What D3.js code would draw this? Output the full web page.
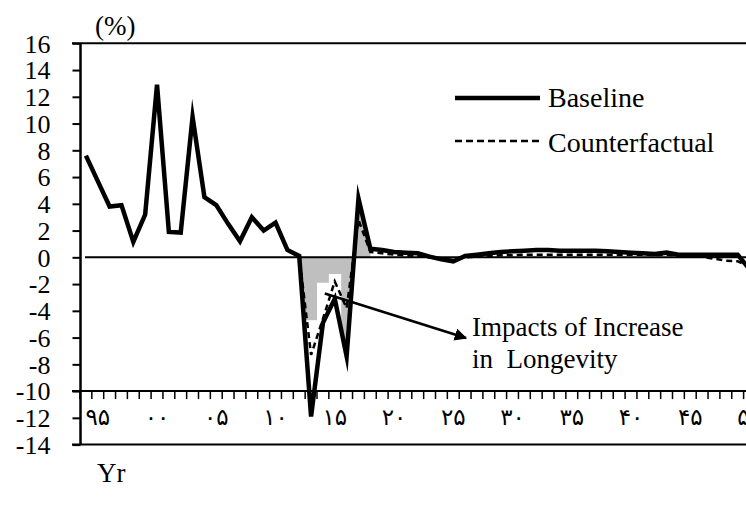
<!DOCTYPE html>
<html><head><meta charset="utf-8">
<script src="https://cdn.jsdelivr.net/npm/d3@7"></script>
<style>
body{margin:0;background:#fff}
svg{display:block;background:#fff}
text{font-family:"Liberation Serif","Times New Roman",serif;fill:#000}
</style>
</head><body>
<svg id="c" width="746" height="509"></svg>
<script>
// ---- data ----
const years = [1994,1995,1996,1997,1998,1999,2000,2001,2002,2003,2004,2005,2006,2007,2008,2009,
  2010,2011,2012,2013,2014,2015,2016,2017,2018,2019,2020,2021,2022,2023,2024,2025,2026,2027,2028,
  2029,2030,2031,2032,2033,2034,2035,2036,2037,2038,2039,2040,2041,2042,2043,2044,2045,2046,2047,
  2048,2049,2050];
const baseline = [7.6,5.7,3.8,3.9,1.15,3.2,12.9,1.9,1.85,10.5,
  4.5,3.9,2.5,1.2,3.0,2.0,2.6,0.55,0.1,-11.9,
  -4.9,-3.1,-7.4,4.4,0.65,0.55,0.4,0.35,0.3,0.05,
  -0.15,-0.3,0.1,0.2,0.3,0.4,0.45,0.5,0.55,0.55,
  0.5,0.5,0.5,0.5,0.45,0.4,0.35,0.3,0.25,0.35,
  0.2,0.2,0.2,0.2,0.2,0.2,-0.9];
const counterfactual = [null,null,null,null,null,null,null,null,null,null,
  null,null,null,null,null,null,null,0.55,0.1,-7.3,
  -4.6,-1.8,-3.8,2.8,0.4,0.3,0.2,0.15,0.1,0.0,
  -0.1,-0.2,0.0,0.05,0.1,0.15,0.15,0.2,0.2,0.2,
  0.2,0.2,0.2,0.2,0.2,0.2,0.2,0.2,0.15,0.2,
  0.1,0.1,0.05,-0.1,-0.25,-0.3,-0.7];
const shadeYears = [2012,2013,2014,2015,2016,2017,2018];
const maskYears = [2013,2014,2015];
const maskTop = [-4.7,-1.9,-1.25];
const tickYears = [1995,2000,2005,2010,2015,2020,2025,2030,2035,2040,2045,2050];
const tickLabels = ["۹۵","۰۰","۰۵","۱۰","۱۵","۲۰","۲۵","۳۰","۳۵","۴۰","۴۵","۵۰"];
const yTicks = [16,14,12,10,8,6,4,2,0,-2,-4,-6,-8,-10,-12,-14];
const seriesNames = ["Baseline","Counterfactual"];
const annotation = ["Impacts of Increase","in  Longevity"];

// ---- scales ----
const svg = d3.select("#c");
const x = d3.scaleBand().domain(years).range([80, 80 + years.length * 11.85]).padding(0);
const cx = yr => x(yr) + x.bandwidth() / 2;
const y = d3.scaleLinear().domain([-14, 16]).range([444.6, 43.3]);
const byYear = new Map(years.map((yr, i) => [yr, i]));

// ---- shading ----
const area = d3.area().x(d => cx(d)).y0(y(0)).y1(d => y(baseline[byYear.get(d)]));
svg.append("path").datum(shadeYears).attr("d", area).attr("fill", "#bfbfbf");
svg.selectAll("rect.mask").data(maskYears).join("rect").attr("class", "mask")
  .attr("x", d => x(d)).attr("width", x.bandwidth() + 0.5)
  .attr("y", (d, i) => y(maskTop[i])).attr("height", (d, i) => y(-12.2) - y(maskTop[i]))
  .attr("fill", "#fff");

// ---- frame / axes ----
const right = 746;
[16, -14, -10].forEach(v => {
  svg.append("line").attr("x1", 72).attr("x2", right).attr("y1", y(v)).attr("y2", y(v))
    .attr("stroke", "#000").attr("stroke-width", 2);
});
svg.append("line").attr("x1", 85).attr("x2", right).attr("y1", y(0)).attr("y2", y(0))
  .attr("stroke", "#000").attr("stroke-width", 2);

const yAxis = svg.append("g").attr("transform", "translate(80.5,0)")
  .call(d3.axisLeft(y).tickValues(yTicks).tickSize(8).tickPadding(22).tickFormat(d => String(d)));
yAxis.select(".domain").attr("d", `M0,${y(16)}V${y(-14)}`).attr("stroke-width", 2.5);
yAxis.selectAll(".tick line").attr("stroke-width", 2);
yAxis.selectAll(".tick text").attr("font-size", 26).attr("font-family", "Liberation Serif").attr("dy", "0.34em");

// x ticks at band boundaries
const bounds = years.map(d => x(d));
svg.append("g").selectAll("line").data(bounds).join("line")
  .attr("x1", d => d).attr("x2", d => d).attr("y1", y(-10)).attr("y2", y(-10) + 8)
  .attr("stroke", "#000").attr("stroke-width", 1.5);
svg.append("g").selectAll("text").data(tickYears).join("text")
  .attr("x", d => cx(d)).attr("y", 425).attr("text-anchor", "middle")
  .attr("font-size", 23).style("font-family", "'DejaVu Sans',sans-serif")
  .text((d, i) => tickLabels[i]);

// ---- lines ----
const lineB = d3.line().x((d, i) => cx(years[i])).y(d => y(d));
const lineC = d3.line().defined(d => d !== null).x((d, i) => cx(years[i])).y(d => y(d));
svg.append("path").datum(counterfactual).attr("d", lineC).attr("fill", "none")
  .attr("stroke", "#000").attr("stroke-width", 2.5).attr("stroke-dasharray", "6,4");
svg.append("path").datum(baseline).attr("d", lineB).attr("fill", "none")
  .attr("stroke", "#000").attr("stroke-width", 4.5).attr("stroke-linejoin", "miter").attr("stroke-miterlimit", 10);

// ---- legend ----
const leg = svg.append("g");
leg.append("line").attr("x1", 455).attr("x2", 540).attr("y1", 98).attr("y2", 98)
  .attr("stroke", "#000").attr("stroke-width", 4.5);
leg.append("line").attr("x1", 455).attr("x2", 540).attr("y1", 141).attr("y2", 141)
  .attr("stroke", "#000").attr("stroke-width", 2.5).attr("stroke-dasharray", "7,4");
leg.append("text").attr("x", 548).attr("y", 107).attr("font-size", 28).text(seriesNames[0]);
leg.append("text").attr("x", 548).attr("y", 152).attr("font-size", 28).text(seriesNames[1]);

// ---- annotation ----
svg.append("defs").append("marker").attr("id", "ah").attr("viewBox", "0 0 10 10")
  .attr("refX", 9).attr("refY", 5).attr("markerWidth", 5).attr("markerHeight", 5)
  .attr("orient", "auto").attr("markerUnits", "strokeWidth")
  .append("path").attr("d", "M0,0L10,5L0,10z").attr("fill", "#000");
svg.append("line").attr("x1", cx(2015) - 10).attr("y1", y(-2.7)).attr("x2", 466).attr("y2", 338)
  .attr("stroke", "#000").attr("stroke-width", 2.5).attr("marker-end", "url(#ah)");
svg.append("text").attr("x", 472).attr("y", 336).attr("font-size", 27).text(annotation[0]);
svg.append("text").attr("x", 472).attr("y", 368).attr("font-size", 27).style("white-space", "pre").text(annotation[1]);

// ---- axis titles ----
svg.append("text").attr("x", 95).attr("y", 35).attr("font-size", 27).text("(%)");
svg.append("text").attr("x", 97).attr("y", 482).attr("font-size", 27).text("Yr");
</script>
</body></html>
